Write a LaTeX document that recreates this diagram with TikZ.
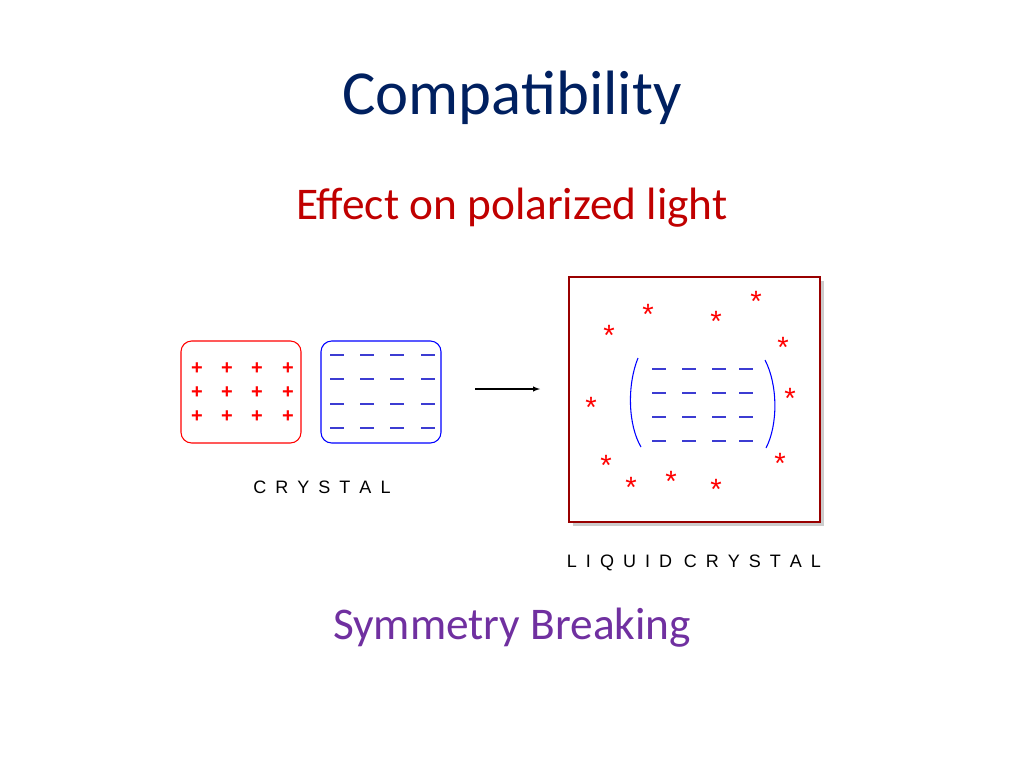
\documentclass[tikz,border=0pt]{standalone}
\usepackage{fontspec}
\setmainfont{Carlito}
\newfontfamily\arial{Liberation Sans}
\begin{document}
\begin{tikzpicture}[x=0.75pt,y=-0.75pt,
  lbl/.style={font=\arial\fontsize{13.5}{15}\selectfont},
  pl/.style={text=red,font=\arial\bfseries\fontsize{15}{15}\selectfont,inner sep=0},
  ds/.style={draw=dashblue,line width=0.9pt},
  st/.style={text=red,font=\arial\fontsize{22}{22}\selectfont,inner sep=0}]
\useasboundingbox (0,0) rectangle (1024,768);
\definecolor{navy}{RGB}{0,32,96}
\definecolor{purp}{RGB}{112,48,160}
\definecolor{dred}{RGB}{192,0,0}
\definecolor{dashblue}{RGB}{60,60,210}
\node (title) at (512,98) {\fontsize{47}{50}\selectfont\color{navy}Compatibility};
\node (sub) at (512,208) {\fontsize{34}{38}\selectfont\color{dred}Effect on polarized light};
\node (sym) at (512,628) {\fontsize{34}{38}\selectfont\color{purp}Symmetry Breaking};
\node[draw=red,rounded corners=8pt,minimum width=90pt,minimum height=76.5pt,line width=0.8pt] (rb) at (241,392) {};
\node[draw=blue,rounded corners=8pt,minimum width=90pt,minimum height=76.5pt,line width=0.8pt] (bb) at (381,392) {};
\foreach \x in {197,227,257,288}\foreach \y in {369,393,417}\node[pl] at (\x,\y) {+};
\foreach \x in {337,367,397,428}\foreach \y in {355,379,404,428}\draw[ds] (\x-7,\y)--(\x+7,\y);
\node[lbl] (cr) at (322,487) {C\,\,\,R\,\,\,Y\,\,\,S\,\,\,T\,\,\,A\,\,\,L};
\coordinate (a1) at (475,389); \coordinate (a2) at (540,389);
\draw[-latex,line width=0.8pt] (a1)--(a2);
\fill[gray!40] (573,281) rectangle (824,526);
\node[draw=red!60!black,fill=white,minimum width=188.25pt,minimum height=183.75pt,line width=0.8pt] (lb) at (694.5,399.5) {};
\foreach \x in {659,689,719,746}\foreach \y in {369,393,417,441}\draw[ds] (\x-7,\y)--(\x+7,\y);
\draw[blue,line width=0.8pt] (638,358) .. controls (627,385) and (628,425) .. (641,447);
\draw[blue,line width=0.8pt] (765,360) .. controls (778,385) and (778,425) .. (766,448);
\foreach \p in {(756,301),(648,314),(716,321),(609,335),(783,347),(790,398),(591,407),(780,463),(606,465),(671,481),(631,487),(716,489)}\node[st] at \p {*};
\node[lbl] (lc) at (694,563) {L\,\,\,I\,\,\,Q\,\,\,U\,\,\,I\,\,\,D\,\,\,\,C\,\,\,R\,\,\,Y\,\,\,S\,\,\,T\,\,\,A\,\,\,L};
\end{tikzpicture}
\end{document}
